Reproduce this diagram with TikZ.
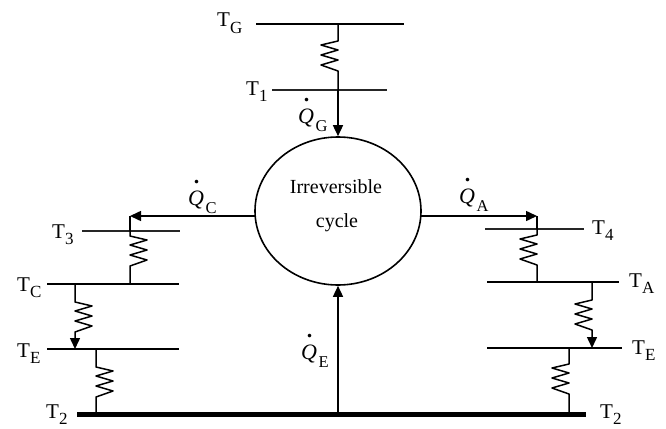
\documentclass[tikz,border=0pt]{standalone}
\usepackage{fontspec}
\setmainfont{Liberation Serif}
\usetikzlibrary{arrows.meta,calc,shapes.geometric}
\newcommand{\Tsub}[1]{T\raisebox{-.3em}{\fontsize{17}{17}\selectfont #1}}
\newcommand{\Qsub}[1]{\leavevmode\rlap{\hspace{.26em}\raisebox{1em}{\textbf{.}}}\textit{Q}\hspace{1.5pt}\raisebox{-.4em}{\fontsize{16.5}{16.5}\selectfont #1}}
% spring: #1 start coordinate, #2 end coordinate, #3 side (+1/-1), #4 gap before the spring, #5 draw options
\newcommand{\springline}[5]{%
  \draw[wire,#5] (#1) -- ++(0,#4) -- ++(#3*17,4) -- ++(-#3*17,5) -- ++(#3*17,5) -- ++(-#3*17,5)
    -- ++(#3*17,5) -- ++(-#3*17,6) -- (#2);}
\tikzset{
  wire/.style={line width=1.5pt,black,line join=round},
  level/.style={line width=1.4pt,black},
  thinlevel/.style={line width=1.1pt,black!85},
  sink/.style={line width=5pt,black},
  flow/.style={wire,-{Triangle[length=11pt,width=10pt]}},
  lab/.style={inner sep=0pt,anchor=base west,font=\fontsize{21}{21}\selectfont},
  qlab/.style={inner sep=0pt,anchor=base west,font=\fontsize{22}{22}\selectfont},
  cyctext/.style={inner sep=0pt,anchor=base,font=\fontsize{20}{20}\selectfont},
  cycle/.style={draw,line width=1.6pt,ellipse,inner sep=0pt}
}
\begin{document}
\begin{tikzpicture}[x=1pt,y=-1pt]
\useasboundingbox (0,0) rectangle (666,428);
% cycle
\node[cycle,minimum width=166pt,minimum height=148pt] (cyc) at (338,211) {};
\node[cyctext] (cyctext1) at (336,193) {Irreversible};
\node[cyctext] (cyctext2) at (337,227) {cycle};
% levels
\coordinate (gl) at (256,24); \coordinate (gr) at (404,24);
\coordinate (al) at (272,90); \coordinate (ar) at (387,90);
\coordinate (t3l) at (82,231); \coordinate (t3r) at (180,231);
\coordinate (cl) at (47,284); \coordinate (cr) at (179,284);
\coordinate (el) at (47,349); \coordinate (er) at (179,349);
\coordinate (t4l) at (485,229); \coordinate (t4r) at (584,229);
\coordinate (Al) at (487,282); \coordinate (Ar) at (619,282);
\coordinate (El) at (487,348); \coordinate (Er) at (622,348);
\coordinate (sl) at (77,414); \coordinate (sr) at (586,414);
\draw[level] (gl) -- (gr);
\draw[thinlevel] (al) -- (ar);
\draw[thinlevel] (t3l) -- (t3r);
\draw[level] (cl) -- (cr);
\draw[level] (el) -- (er);
\draw[thinlevel] (t4l) -- (t4r);
\draw[level] (Al) -- (Ar);
\draw[level] (El) -- (Er);
\draw[sink] (sl) -- (sr);
% top branch
\coordinate (g0) at (338,24); \coordinate (g1) at (338,90);
\springline{g0}{g1}{-1}{17}{}
\draw[flow] (g1) -- (cyc.north);
% bottom
\coordinate (s0) at (338,414);
\draw[flow] (s0) -- (cyc.south);
% left branch
\coordinate (lc) at (130,216); \coordinate (l3) at (130,231); \coordinate (lC) at (130,284);
\coordinate (cw) at (255,216); \coordinate (ce) at (421,216);
\draw[flow] (cw) -- (lc);
\draw[wire] (lc) -- (l3);
\springline{l3}{lC}{1}{5}{}
\coordinate (c1) at (75,284); \coordinate (e1) at (75,349);
\springline{c1}{e1}{1}{18}{-{Triangle[length=11pt,width=10pt]}}
\coordinate (e2) at (96,349); \coordinate (s2) at (96,414);
\springline{e2}{s2}{1}{18}{}
% right branch
\coordinate (rc) at (537,216); \coordinate (r4) at (537,229); \coordinate (rA) at (537,282);
\draw[flow] (ce) -- (rc);
\draw[wire] (rc) -- (r4);
\springline{r4}{rA}{-1}{6}{}
\coordinate (a1) at (592,282); \coordinate (E1) at (592,348);
\springline{a1}{E1}{-1}{18}{-{Triangle[length=11pt,width=10pt]}}
\coordinate (E2) at (569,348); \coordinate (s3) at (569,414);
\springline{E2}{s3}{-1}{16}{}
% temperature labels
\node[lab] (tg) at (217,27) {\Tsub{G}};
\node[lab] (t1) at (246,95) {\Tsub{1}};
\node[lab] (t3) at (52,238) {\Tsub{3}};
\node[lab] (tc) at (17,291) {\Tsub{C}};
\node[lab] (te) at (17,357) {\Tsub{E}};
\node[lab] (t2) at (46,418) {\Tsub{2}};
\node[lab] (t4) at (592,234) {\Tsub{4}};
\node[lab] (ta) at (629,287) {\Tsub{A}};
\node[lab] (tE) at (632,354) {\Tsub{E}};
\node[lab] (t2r) at (600,418) {\Tsub{2}};
% heat labels
\node[qlab] (qg) at (298,123) {\Qsub{G}};
\node[qlab] (qc) at (188,205) {\Qsub{C}};
\node[qlab] (qa) at (459,203) {\Qsub{A}};
\node[qlab] (qe) at (301,359) {\Qsub{E}};
\end{tikzpicture}
\end{document}
